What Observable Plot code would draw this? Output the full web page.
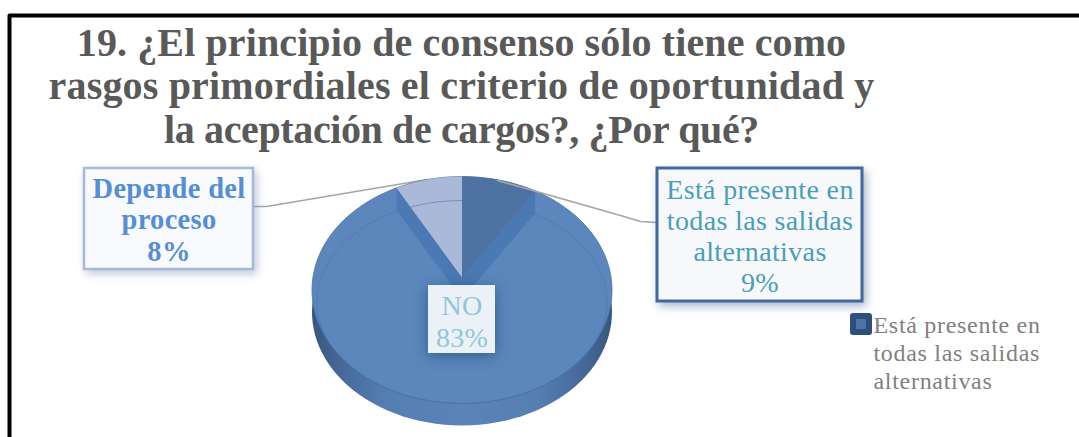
<!DOCTYPE html>
<html lang="es">
<head>
<meta charset="utf-8">
<script src="https://cdn.jsdelivr.net/npm/d3@7"></script>
<script src="https://cdn.jsdelivr.net/npm/@observablehq/plot@0.6"></script>
<style>
html,body{margin:0;padding:0;background:#fff;overflow:hidden}
svg{display:block}
</style>
</head>
<body>
<div id="chart"></div>
<script>
// ---- data ----
const titleLines = [
  "19. ¿El principio de consenso sólo tiene como",
  "rasgos primordiales el criterio de oportunidad y",
  "la aceptación de cargos?, ¿Por qué?"
];
const categories = ["Está presente en todas las salidas alternativas", "NO", "Depende del proceso"];
const percents = [9, 83, 8];
const categoryLines = [
  ["Está presente en", "todas las salidas", "alternativas"],
  ["NO"],
  ["Depende del", "proceso"]
];
const legendLines = categoryLines[0];

// ---- layout (pixels of the page) ----
const W = 1079, H = 437;
const FONT = "'Liberation Serif', serif";
const pie = {cx: 461.5, apexY: 277, sx: 149.1, sy: 112.1, p: 0.11, depth: 22};
const project = (deg, dy = 0) => {
  const t = deg * Math.PI / 180, den = 1 + pie.p * Math.cos(t);
  return {x: pie.cx + pie.sx * Math.sin(t) / den, y: pie.apexY - pie.sy * Math.cos(t) / den + dy};
};
const angles = d3.range(0, 360, 3);
const rimOutline = (dy, id) => angles.map(a => ({...project(a, dy), id}));

// slice angles come from the percentages, clockwise from twelve o'clock
const cum = d3.cumsum(percents);
const spans = percents.map((v, i) => ({start: (cum[i] - v) * 3.6, end: cum[i] * 3.6}));
const apex = (dy = 0) => ({x: pie.cx, y: pie.apexY + dy});
const wedge = span => {
  const pts = [apex()];
  for (let a = span.start; a < span.end; a += 2) pts.push(project(a));
  pts.push(project(span.end));
  return pts;
};
const wedgeA = wedge(spans[0]);
const wedgeB = wedge(spans[2]);
const wallA = [apex(), project(spans[0].end), project(spans[0].end, pie.depth), apex(pie.depth)];
const wallB = [apex(), project(spans[2].start), project(spans[2].start, pie.depth), apex(pie.depth)];
const bevel = d3.range(0, 364, 4).map(a => {
  const t = a * Math.PI / 180;
  return {x: pie.cx + 145 * Math.sin(t), y: 301.5 - 101.5 * Math.cos(t)};
});

const boxes = [
  {i: 2, x1: 84, x2: 253, y1: 168, y2: 269, fill: "#f9fafd", stroke: "#a6b9da", sw: 2.5, color: "#558ed5", bold: true, size: 28.5, ls: 0.3, cx: 168.5, base: 197, lh: 31.5, shadow: "3px 4px 4px rgba(120,140,180,.45)"},
  {i: 0, x1: 657, x2: 862, y1: 168, y2: 301, fill: "#f6f8fa", stroke: "#41699f", sw: 3, color: "#4a9ebb", bold: false, size: 28, ls: 0.35, cx: 759.5, base: 198, lh: 31.2, shadow: "3px 4px 4px rgba(90,115,160,.5)"},
  {i: 1, x1: 428, x2: 495, y1: 285, y2: 353, fill: "#ebf1f6", stroke: "none", sw: 0, color: "#92c6d8", bold: false, size: 28, ls: 0.3, cx: 461.5, base: 314, lh: 32, shadow: "0 3px 7px rgba(30,70,120,.65)"}
];

const style = attrs => (index, scales, values, dims, ctx, next) => {
  const g = next(index, scales, values, dims, ctx);
  for (const k in attrs) g.setAttribute(k, attrs[k]);
  return g;
};

const defs = () => {
  const d = d3.create("svg:defs");
  const g = d.append("linearGradient").attr("id", "side").attr("x1", 0).attr("x2", 1).attr("y1", 0).attr("y2", 0);
  [[0, "#39577d"], [0.1, "#47699a"], [0.25, "#557fb3"], [0.5, "#5a84b8"], [0.75, "#557fb3"], [0.9, "#47699a"], [1, "#39577d"]]
    .forEach(([o, c]) => g.append("stop").attr("offset", o).attr("stop-color", c));
  return d.node();
};

const textLines = (lines, o) => Plot.text(lines, {
  x: () => o.x,
  y: (d, i) => o.base + i * o.lh,
  text: d => d,
  textAnchor: o.anchor || "middle",
  lineAnchor: "bottom",
  fontFamily: FONT,
  fontSize: o.size,
  fontWeight: o.bold ? "bold" : "normal",
  fill: o.color,
  render: style({"letter-spacing": o.ls})
});
const poly = (pts, fill, extra = {}) => Plot.line(pts, {x: "x", y: "y", fill, stroke: "none", curve: "linear-closed", ...extra});
const box = b => Plot.rect([b], {x1: "x1", x2: "x2", y1: "y1", y2: "y2", fill: b.fill, stroke: b.stroke, strokeWidth: b.sw,
  render: style({style: `filter:drop-shadow(${b.shadow})`})});
const titleSpacing = [0.11, 0.17, -0.38];

const chart = Plot.plot({
  width: W, height: H, margin: 0,
  style: {background: "#fff"},
  x: {domain: [0, W], range: [0, W], axis: null},
  y: {domain: [0, H], range: [0, H], axis: null},
  marks: [
    defs,
    // frame
    Plot.line([{x: 9, y: H}, {x: 9, y: 15}, {x: W, y: 15}], {x: "x", y: "y", stroke: "#000", strokeWidth: 4}),
    // title
    ...titleLines.map((line, i) => textLines([line], {x: 461, base: 55 + i * 43.5, lh: 0, size: 40, bold: true, color: "#595959", ls: titleSpacing[i]})),
    // leader lines
    Plot.line([{x: 254, y: 206}, {x: 266, y: 206}, {x: 427, y: 179}], {x: "x", y: "y", stroke: "#a5a5a5", strokeWidth: 1.7}),
    // pie
    poly(rimOutline(pie.depth, "side"), "url(#side)"),
    poly(rimOutline(0, "top"), "#5b87bc", {stroke: "#48749f", strokeWidth: 0.8}),
    poly(wallA, "#4a79b3"),
    poly(wallB, "#4a79b3"),
    poly(wedgeA, "#4e73a2"),
    poly(wedgeB, "#a9b9d7"),
    Plot.line(bevel, {x: "x", y: "y", stroke: "#4a74a8", strokeWidth: 0.8, strokeOpacity: 0.7}),
    Plot.line([{x: 497, y: 180}, {x: 620, y: 215}, {x: 640, y: 221}, {x: 656, y: 222}], {x: "x", y: "y", stroke: "#a5a5a5", strokeWidth: 1.7}),
    // data labels
    ...boxes.flatMap(b => [
      box(b),
      textLines([...categoryLines[b.i], `${percents[b.i]}%`], {x: b.cx, base: b.base, lh: b.lh, size: b.size, bold: b.bold, color: b.color, ls: b.ls})
    ]),
    // legend
    Plot.rect([{x1: 853, x2: 869, y1: 316, y2: 332}], {x1: "x1", x2: "x2", y1: "y1", y2: "y2", fill: "#4f73a5", stroke: "#2d4f7c", strokeWidth: 6, strokeLinejoin: "round"}),
    textLines(legendLines, {x: 873, anchor: "start", base: 332, lh: 28, size: 24, color: "#808080", ls: 0.7})
  ]
});
document.getElementById("chart").appendChild(chart);
</script>
</body>
</html>
